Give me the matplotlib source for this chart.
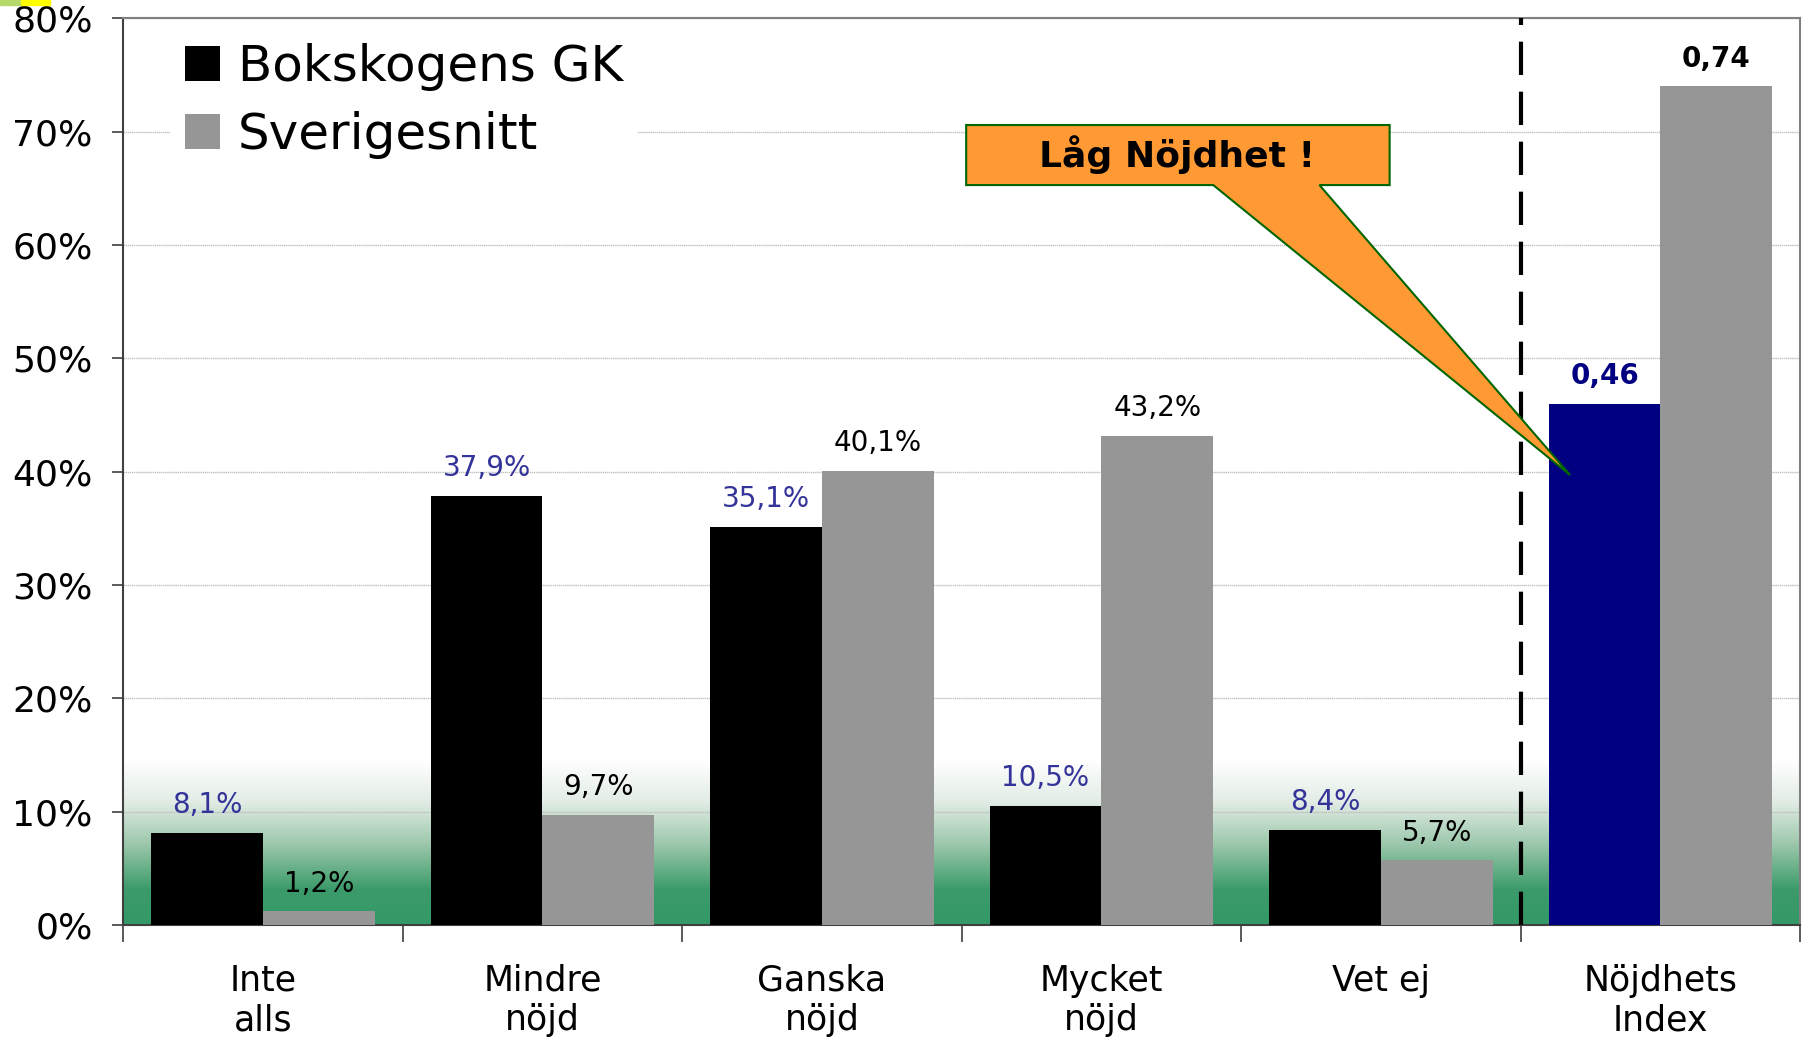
import numpy as np
import matplotlib
matplotlib.use("Agg")
import matplotlib.pyplot as plt
from matplotlib.colors import LinearSegmentedColormap
from matplotlib.patches import Polygon, Rectangle

# data
kategorier = ["Inte\nalls", "Mindre\nnöjd", "Ganska\nnöjd", "Mycket\nnöjd", "Vet ej", "Nöjdhets\nIndex"]
bokskogen = [8.1, 37.9, 35.1, 10.5, 8.4, 46.0]
sverige = [1.2, 9.7, 40.1, 43.2, 5.7, 74.0]
etikett_bok = ["8,1%", "37,9%", "35,1%", "10,5%", "8,4%", "0,46"]
etikett_sve = ["1,2%", "9,7%", "40,1%", "43,2%", "5,7%", "0,74"]
serier = ["Bokskogens GK", "Sverigesnitt"]
callout_text = "Låg Nöjdhet !"

plt.rcParams['font.family'] = ['DejaVu Sans']

fig = plt.figure(figsize=(18.06, 10.38), dpi=100)
ax = fig.add_axes([0.0682, 0.1088, 0.9286, 0.8734])

x = np.arange(len(kategorier))
w = 0.4

# green gradient at the bottom
grad = LinearSegmentedColormap.from_list("g", [(0.0, "#339966"), (0.22, "#3d9b6b"),
                                                (0.5, "#9fc9ae"), (0.75, "#e2ece5"), (1.0, "#ffffff")])
ax.imshow(np.linspace(0, 1, 256).reshape(-1, 1), cmap=grad, origin="lower",
          extent=[-0.5, 5.5, 0, 14.5], aspect="auto", zorder=0)

ax.set_xlim(-0.5, 5.5)
ax.set_ylim(0, 80)

ax.yaxis.grid(True, color="#c0c0c0", lw=1.0, ls=(0, (1, 0.5)), zorder=1)
ax.set_axisbelow(True)

farg_bok = ["black"] * 5 + ["#000080"]
b1 = ax.bar(x - w / 2, bokskogen, w, color=farg_bok, zorder=3, label=serier[0])
b2 = ax.bar(x + w / 2, sverige, w, color="#969696", zorder=3, label=serier[1])

for i in range(len(x)):
    bold = i == 5
    ax.annotate(etikett_bok[i], (x[i] - w / 2, bokskogen[i]), xytext=(0, 10),
                textcoords="offset points", ha="center", va="bottom", fontsize=20,
                color="#000080" if bold else "#333399",
                fontweight="bold" if bold else "normal", zorder=5)
    ax.annotate(etikett_sve[i], (x[i] + w / 2, sverige[i]), xytext=(0, 10),
                textcoords="offset points", ha="center", va="bottom", fontsize=20,
                color="black", fontweight="bold" if bold else "normal", zorder=5)

# dashed separator
ax.axvline(4.5, color="black", lw=3, ls=(0, (8, 4)), zorder=4)

# callout
tip = (x[5] - w + 0.077, bokskogen[5] - 6.3)
pts = [(2.516, 70.6), (4.031, 70.6), (4.031, 65.3), (3.78, 65.3), tip, (3.40, 65.3), (2.516, 65.3)]
ax.add_patch(Polygon(pts, closed=True, facecolor="#FF9933", edgecolor="#006600", lw=1.5, zorder=6))
ax.text(3.27, 67.95, callout_text, ha="center", va="center", fontsize=26, fontweight="bold", zorder=7)

# axes styling
ax.set_yticks(range(0, 81, 10))
ax.set_yticklabels([f"{v}%" for v in range(0, 81, 10)], fontsize=26)
ax.tick_params(axis="y", length=8, width=1.2, color="#404040", pad=14)
ax.set_xticks(x)
ax.set_xticklabels(kategorier, fontsize=25)
ax.set_xticks(np.arange(-0.5, 6, 1), minor=True)
ax.tick_params(axis="x", which="major", length=0, pad=28)
ax.tick_params(axis="x", which="minor", length=12, width=1.2, color="#404040")
for s in ["top", "right"]:
    ax.spines[s].set_color("#808080")
    ax.spines[s].set_linewidth(1.5)
for s in ["left", "bottom"]:
    ax.spines[s].set_color("#404040")
    ax.spines[s].set_linewidth(1.5)

leg = ax.legend(loc="upper left", bbox_to_anchor=(0.028, 0.99), fontsize=36, frameon=True,
                handlelength=0.7, handleheight=0.7, handletextpad=0.35, labelspacing=0.4,
                borderpad=0.3, borderaxespad=0)
leg.get_frame().set_edgecolor("none")
leg.get_frame().set_facecolor("white")
leg.get_frame().set_alpha(1)
leg.get_frame().set_boxstyle("square", pad=0.0)

# small marks in the upper-left corner
fig.patches.append(Rectangle((0, 0.995), 0.011, 0.005, transform=fig.transFigure, color="#b5d96a"))
fig.patches.append(Rectangle((0.0115, 0.995), 0.016, 0.005, transform=fig.transFigure, color="#ffff00"))

fig.savefig("out.png", dpi=100)
